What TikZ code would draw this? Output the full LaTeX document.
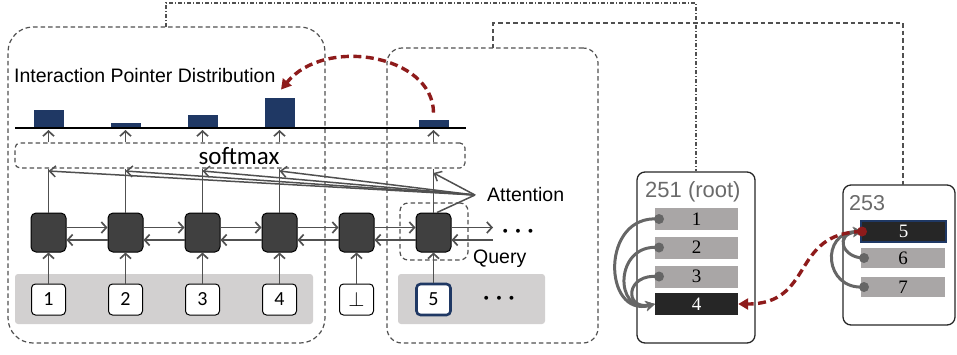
\documentclass[tikz,border=0pt]{standalone}
\usepackage{fontspec}
\setmainfont{Liberation Sans}
\newfontfamily\calib{Carlito}
\newfontfamily\tms{Liberation Serif}
\usetikzlibrary{arrows.meta,calc}
\definecolor{navy}{HTML}{1F3864}
\definecolor{darkred}{HTML}{8E1B1B}
\definecolor{lgray}{HTML}{D2D0D0}
\definecolor{rowgray}{HTML}{A9A6A6}
\definecolor{rowdark}{HTML}{262626}
\definecolor{cellc}{HTML}{404040}
\definecolor{linec}{HTML}{505050}
\definecolor{txtgray}{HTML}{6A6A6A}
\begin{document}
\begin{tikzpicture}[x=1pt,y=-1pt,
  dashbox/.style={draw=linec, line width=1.2pt, dash pattern=on 4.5pt off 3pt},
  cell/.style={draw=black, fill=cellc, rounded corners=5pt, minimum width=35pt, minimum height=39pt, inner sep=0pt, line width=1pt},
  tok/.style={draw=black, fill=white, rounded corners=4pt, minimum width=34pt, minimum height=31pt, inner sep=0pt, line width=1pt, font=\calib\fontsize{20}{20}\selectfont},
  bar/.style={fill=navy, minimum width=30pt, inner sep=0pt, anchor=south},
  arr/.style={draw=linec, line width=1.7pt, -{Straight Barb[length=5pt,width=11pt,line width=1.7pt]}},
  plain/.style={draw=linec, line width=1.7pt},
  attn/.style={draw=linec, line width=1.5pt, -{Straight Barb[length=6pt,width=11pt,line width=1.5pt]}},
  row/.style={fill=rowgray, minimum width=83pt, minimum height=22pt, inner sep=0pt, font=\tms\fontsize{19}{19}\selectfont},
  darkrow/.style={row, fill=rowdark, text=white},
  tree/.style={draw=black!85, line width=1.3pt, rounded corners=8pt, inner sep=0pt},
  garr/.style={draw=black!60, line width=3pt, -{Stealth[length=9pt,width=10pt]}},
  gdot/.style={circle, fill=black!60, minimum size=10pt, inner sep=0pt},
  redarr/.style={draw=darkred, line width=3.4pt, dash pattern=on 8pt off 4.5pt, -{Triangle[length=10pt,width=11pt]}},
  lbl/.style={font=\fontsize{19.5}{19.5}\selectfont},
  ell/.style={font=\fontsize{26}{26}\selectfont\boldmath, inner sep=0pt}
]
\useasboundingbox (0,0) rectangle (957,354);

% big dashed boxes
\node[dashbox, rounded corners=25pt, minimum width=317pt, minimum height=316pt] (lbox) at (166.5,185) {};
\node[dashbox, rounded corners=15pt, minimum width=211pt, minimum height=295pt] (mbox) at (492.5,195.5) {};

% input gray backgrounds
\node[fill=lgray, rounded corners=3pt, minimum width=298pt, minimum height=50pt, inner sep=0pt] (ig1) at (164,299) {};
\node[fill=lgray, rounded corners=3pt, minimum width=147pt, minimum height=50pt, inner sep=0pt] (ig2) at (471.5,299) {};

% softmax
\node[dashbox, rounded corners=5pt, minimum width=450pt, minimum height=25pt, inner sep=0pt] (sm) at (240,155.5) {};
\node[font=\calib\fontsize{25}{25}\selectfont, anchor=base, inner sep=0pt] (smt) at (239,164) {softmax};

% cells
\foreach \i/\x in {1/48.5,2/125.5,3/202.5,4/279.5,5/356.5,6/433.5}
  \node[cell] (c\i) at (\x,232.5) {};

% tokens
\node[tok] (t1) at (48.5,299.5) {1};
\node[tok] (t2) at (125.5,299.5) {2};
\node[tok] (t3) at (202.5,299.5) {3};
\node[tok] (t4) at (279.5,299.5) {4};
\node[tok] (t5) at (356.5,299.5) {$\perp$};
\node[tok, draw=navy, line width=2.6pt] (t6) at (433.5,299.5) {5};
\node[ell] (dots2) at (499,299) {$\cdots$};

\foreach \i in {1,...,6} \draw[arr] (t\i) -- (c\i);

% recurrent arrows
\foreach \i/\j in {1/2,2/3,3/4,4/5,5/6} {
  \draw[arr] ([yshift=5pt]c\i.east) -- ([yshift=5pt]c\j.west);
  \draw[arr] ([yshift=-7.5pt]c\j.west) -- ([yshift=-7.5pt]c\i.east);
}
\coordinate (fr) at (493,227.5);
\coordinate (bk) at (493,240);
\draw[arr] ([yshift=5pt]c6.east) -- (fr);
\draw[arr] (bk) -- ([yshift=-7.5pt]c6.east);
\node[ell] (dots1) at (518,232) {$\cdots$};

% query box
\node[dashbox, rounded corners=8pt, minimum width=68pt, minimum height=57pt, inner sep=0pt] (qbox) at (434,231.5) {};
\node[lbl, anchor=base west, inner sep=0pt] (qlab) at (473,263) {Query};

% column lines to softmax
\foreach \i in {1,2,3,4,6} \draw[plain] (c\i.north) -- (c\i |- sm.south);

% attention fan
\coordinate (att) at (475,195);
\foreach \i in {1,2,3,4} \draw[attn] (att) -- (c\i |- 0,171);
\draw[attn] (att) -- (c6 |- 0,173);
\draw[plain, line width=1.5pt] (att) -- ([xshift=3.5pt]c6.north);
\node[lbl, anchor=west, inner sep=0pt] (alab) at (487,195) {Attention};

% distribution
\node[lbl, anchor=west, inner sep=0pt] (dlab) at (14,76) {Interaction Pointer Distribution};
\coordinate (axl) at (15,128);
\coordinate (axr) at (466,128);
\node[bar, minimum height=18pt] (b1) at (48.5,128) {};
\node[bar, minimum height=5pt] (b2) at (125.5,128) {};
\node[bar, minimum height=13pt] (b3) at (202.5,128) {};
\node[bar, minimum height=30pt] (b4) at (279.5,128) {};
\node[bar, minimum height=8pt] (b6) at (433.5,128) {};
\draw[black, line width=2pt] (axl) -- (axr);
\foreach \i in {1,2,3,4,6} \draw[arr] (c\i |- sm.north) -- (c\i |- 0,130);

% red pointer arrow
\draw[redarr] ([yshift=7pt]b6.north) .. controls (433,55) and (325,36) .. ([xshift=1.5pt,yshift=8pt]b4.north);

% tree boxes
\node[tree, minimum width=118pt, minimum height=171pt] (r251) at (696,257.5) {};
\node[anchor=west, inner sep=0pt, text=txtgray, font=\fontsize{22}{22}\selectfont] (l251) at (645,192) {251 (root)};
\node[row] (n1) at (696.5,219) {1};
\node[row] (n2) at (696.5,247.5) {2};
\node[row] (n3) at (696.5,276.5) {3};
\node[darkrow] (n4) at (696.5,304) {4};

\node[tree, minimum width=112pt, minimum height=140pt] (r253) at (899,255) {};
\node[anchor=west, inner sep=0pt, text=txtgray, font=\fontsize{21.5}{21.5}\selectfont] (l253) at (849,203) {253};
\node[darkrow, draw=navy, line width=2.2pt, minimum width=85pt, minimum height=21pt] (n5) at (903.5,231.5) {5};
\node[row, minimum width=84pt, minimum height=20pt] (n6) at (903,258) {6};
\node[row, minimum width=84pt, minimum height=20pt] (n7) at (903,287) {7};

% gray links in 251
\coordinate (d1) at (659,219);
\coordinate (d2) at (659,247.5);
\coordinate (d3) at (659,276.5);
\draw[garr] (d1) .. controls (600,214) and (603,318) .. (n4.west);
\draw[garr] (d2) .. controls (614,243) and (614,314) .. (n4.west);
\draw[garr] (d3) .. controls (625,273) and (624,310) .. (n4.west);
\foreach \d in {d1,d2,d3} \node[gdot] at (\d) {};

% gray links in 253
\coordinate (d6) at (864,258);
\coordinate (d7) at (864,287);
\coordinate (d5) at (862,231.5);
\draw[garr] (d6) .. controls (842,258) and (834,234) .. (d5);
\draw[garr] (d7) .. controls (824,290) and (820,232) .. (d5);
\foreach \d in {d6,d7} \node[gdot] at (\d) {};

% red link between trees
\draw[redarr] (d5) .. controls (790,233) and (815,304) .. (n4.east);
\node[circle, fill=darkred, minimum size=10pt, inner sep=0pt] (rd) at (d5) {};

% top connectors
\draw[draw=linec, line width=1.2pt, dash pattern=on 4pt off 2pt on 1pt off 2pt] (166,27) -- (166,3) -| (r251.north);
\draw[dashbox] (493,48) -- (493,23) -- (903,23) -- (903,185);
\end{tikzpicture}
\end{document}
